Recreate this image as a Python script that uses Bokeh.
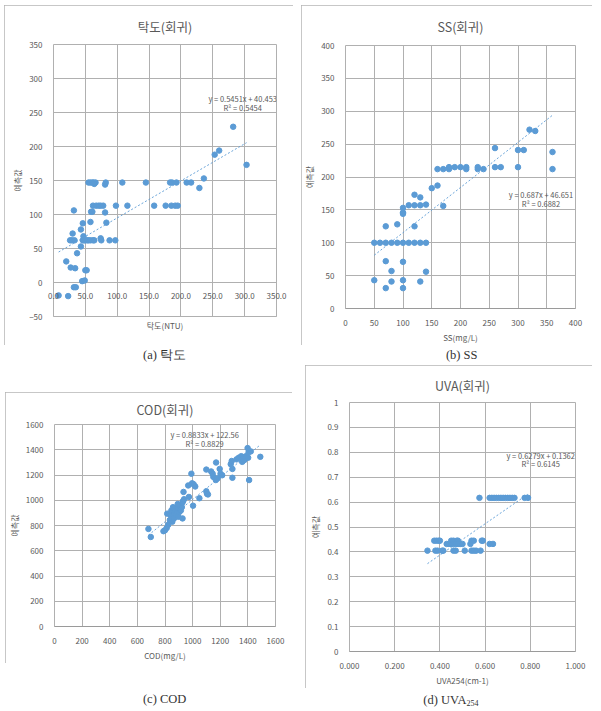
from bokeh.plotting import figure
from bokeh.layouts import row, column
from bokeh.models import Range1d, FixedTicker, NumeralTickFormatter, CustomJSTickFormatter, Label, Title
from bokeh.core.properties import value
from bokeh.embed import file_html
from bokeh.resources import INLINE

# ---------------- data ----------------
# (a) 탁도
TURB_X = [8, 23, 20, 27, 34, 32, 35, 45, 49, 50, 52, 37, 43,
          26, 29, 33, 46, 48, 50, 53, 55, 58, 62, 64, 75, 88, 97,
          74, 47, 30, 43, 46, 58, 83, 32,
          59, 61, 81,
          62, 67, 71, 74, 78, 98, 116, 158, 176, 185, 191, 195,
          55, 58, 61, 63, 66, 64, 81, 82, 108, 145, 183, 186, 193, 209, 216,
          229, 236, 253, 260, 282, 303]
TURB_Y = [-19, -20, 31, 22, 21, -7, -7, 2, 3, 18, 18, 43, 53,
          62, 62, 62, 62, 62, 62, 62, 62, 62, 62, 62, 62, 62, 62,
          65, 68, 72, 78, 87, 89, 88, 106,
          104, 104, 103,
          113, 113, 113, 113, 113, 113, 113, 113, 113, 113, 113, 113,
          147, 147, 147, 147, 147, 145, 144, 147, 147, 147, 147, 147, 147, 147, 147,
          139, 153, 188, 194, 229, 173]
TURB_FIT = (0.5451, 40.453)
TURB_EQ = ["y = 0.5451x + 40.453", "R² = 0.5454"]

# (b) SS
SS_X = [50, 60, 70, 80, 90, 100, 110, 120, 130, 140,
        50, 80, 100, 130, 70, 100, 80, 140, 70, 100,
        70, 120, 90, 100, 100, 100, 110, 120, 130, 140,
        170, 120, 130, 150, 160,
        160, 170, 180, 180, 190, 200, 210, 210, 230, 230, 240, 260, 270, 300, 360,
        260, 300, 310, 360, 320, 330]
SS_Y = [100, 100, 100, 100, 100, 100, 100, 100, 100, 100,
        43, 41, 43, 41, 31, 31, 57, 56, 72, 71,
        125, 125, 128, 153, 146, 144, 157, 157, 157, 158,
        156, 173, 169, 183, 187,
        212, 212, 212, 215, 215, 215, 212, 215, 212, 215, 212, 215, 215, 215, 212,
        244, 241, 241, 238, 272, 270]
SS_FIT = (0.687, 46.651)
SS_EQ = ["y = 0.687x + 46.651", "R² = 0.6882"]

# (c) COD
COD_X = [680, 697, 789, 800, 812, 823, 816, 835, 842, 846,
         853, 858, 865, 869, 874, 881, 885, 892, 897, 904,
         911, 915, 922, 927, 931, 938, 927, 934, 892, 973,
         968, 991, 996, 1007, 1019, 1003, 1049, 1099, 1104, 1111,
         1099, 1134, 1150, 1145, 1170, 1168, 1180, 1196, 1202, 1214,
         1276, 1283, 1288, 1288, 1318, 1334, 1352, 1359, 1363, 1375,
         1386, 1398, 1402, 1405, 1421, 1409, 1490]
COD_Y = [773, 709, 755, 762, 780, 805, 894, 843, 881, 919,
         830, 945, 856, 894, 919, 881, 907, 932, 869, 907,
         957, 919, 945, 983, 995, 1008, 856, 1066, 970, 1026,
         1117, 1210, 1134, 1127, 1109, 957, 1016, 1071, 1051, 1046,
         1243, 1228, 1185, 1210, 1299, 1160, 1173, 1248, 1210, 1198,
         1286, 1311, 1178, 1248, 1324, 1337, 1349, 1304, 1329, 1319,
         1349, 1413, 1337, 1380, 1387, 1160, 1344]
COD_FIT = (0.8833, 122.56)
COD_EQ = ["y = 0.8833x + 122.56", "R² = 0.8829"]

# (d) UVA254
UVA_X = [0.575, 0.62, 0.63, 0.64, 0.65, 0.66, 0.67, 0.68, 0.69, 0.70, 0.71, 0.72, 0.73, 0.775, 0.79,
         0.375, 0.385, 0.395, 0.40, 0.45, 0.46, 0.475, 0.48, 0.54, 0.55, 0.585, 0.59,
         0.43, 0.44, 0.45, 0.46, 0.47, 0.48, 0.49, 0.50, 0.535, 0.62, 0.635,
         0.345, 0.38, 0.39, 0.41, 0.415, 0.46, 0.47, 0.51, 0.54, 0.55, 0.56, 0.58]
UVA_Y = [0.617, 0.617, 0.617, 0.617, 0.617, 0.617, 0.617, 0.617, 0.617, 0.617, 0.617, 0.617, 0.617, 0.617, 0.617,
         0.445, 0.445, 0.445, 0.445, 0.445, 0.445, 0.445, 0.445, 0.445, 0.445, 0.445, 0.445,
         0.432, 0.432, 0.432, 0.432, 0.432, 0.432, 0.432, 0.432, 0.432, 0.432, 0.432,
         0.405, 0.405, 0.405, 0.405, 0.405, 0.405, 0.405, 0.405, 0.405, 0.405, 0.405, 0.405]
UVA_FIT = (0.6279, 0.1362)
UVA_EQ = ["y = 0.6279x + 0.1362", "R² = 0.6145"]

TURB_XTICKS = [0, 50, 100, 150, 200, 250, 300, 350]
TURB_YTICKS = [-50, 0, 50, 100, 150, 200, 250, 300, 350]
SS_TICKS = [0, 50, 100, 150, 200, 250, 300, 350, 400]
COD_TICKS = [0, 200, 400, 600, 800, 1000, 1200, 1400, 1600]
UVA_XTICKS = [0, 0.2, 0.4, 0.6, 0.8, 1.0]
UVA_YTICKS = [0, 0.1, 0.2, 0.3, 0.4, 0.5, 0.6, 0.7, 0.8, 0.9, 1]

# ---------------- style ----------------
FONT = "Noto Sans CJK KR"
GRID = "#b0b0b0"
TXT = "#595959"
BLUE = "#5b9bd5"
FRAME_CSS = {"outline": "1px solid #b4b4b4", "outline-offset": "-1px"}


def panel(title, xs, ys, fit, eq, xr, yr, xticks, yticks, xlabel, w, h, borders,
          eq_xy, title_gap, xfmt=None, yfmt=None, x_label_shift=None, margin=None):
    bl, br, bt, bb = borders
    p = figure(width=w, height=h, x_range=Range1d(*xr), y_range=Range1d(*yr),
               output_backend="svg", toolbar_location=None,
               min_border_left=bl, min_border_right=br,
               min_border_top=bt, min_border_bottom=bb,
               title=title)
    if margin is not None:
        p.margin = margin
    p.styles = FRAME_CSS
    p.outline_line_color = GRID
    p.title.align = "center"
    p.title.text_font = FONT
    p.title.text_font_size = "12.5px"
    p.title.text_font_style = "normal"
    p.title.text_color = TXT
    p.title.standoff = title_gap

    p.xaxis.ticker = FixedTicker(ticks=xticks)
    p.yaxis.ticker = FixedTicker(ticks=yticks)
    p.xgrid.grid_line_color = GRID
    p.ygrid.grid_line_color = GRID
    p.xgrid.grid_line_width = 1
    p.ygrid.grid_line_width = 1
    if xfmt is not None:
        p.xaxis.formatter = xfmt
    if yfmt is not None:
        p.yaxis.formatter = yfmt
    for ax in (p.xaxis[0], p.yaxis[0]):
        ax.major_tick_line_color = None
        ax.minor_tick_line_color = None
        ax.major_label_text_font = FONT
        ax.major_label_text_font_size = "8px"
        ax.major_label_text_color = TXT
        ax.major_label_standoff = 5
        ax.axis_label_text_font = FONT
        ax.axis_label_text_font_size = "8px"
        ax.axis_label_text_font_style = "normal"
        ax.axis_label_text_color = TXT
        ax.axis_label_standoff = 3
    p.yaxis.axis_line_color = None
    p.xaxis.axis_line_color = "#9a9a9a"
    p.yaxis.axis_label = "예측값"

    if x_label_shift is not None:
        # horizontal axis crosses at y = 0: pull its labels up to that line
        p.xaxis.major_label_standoff = x_label_shift
        p.xaxis.axis_line_color = GRID
        p.add_layout(Title(text=xlabel, align="center", text_font=FONT,
                           text_font_size="8px", text_color=TXT,
                           text_font_style="normal", standoff=3), "below")
    else:
        p.xaxis.axis_label = xlabel

    slope, icpt = fit
    x0, x1 = min(xs), max(xs)
    p.line(x=[x0, x1], y=[slope * x0 + icpt, slope * x1 + icpt],
           line_color=BLUE, line_width=1, line_dash="2 2", line_alpha=0.9)
    p.scatter(x=xs, y=ys, size=5.5, fill_color=BLUE, line_color=BLUE)

    ex, ey1, ey2 = eq_xy
    for txt, yy in ((eq[0], ey1), (eq[1], ey2)):
        p.add_layout(Label(x=ex, y=yy, text=txt, text_align="center",
                           text_baseline="middle", text_font=FONT,
                           text_font_size="7.5px", text_color=TXT))
    return p


def caption(parts, w, h, cx, cy, margin=None):
    c = figure(width=w, height=h, x_range=Range1d(0, w), y_range=Range1d(0, h),
               x_axis_location=None, y_axis_location=None,
               output_backend="svg", toolbar_location=None, min_border=0)
    if margin is not None:
        c.margin = margin
    c.grid.visible = False
    c.outline_line_color = None
    main, sub = parts
    kw = dict(text_font=value("Liberation Serif"), text_color="#333333")
    if sub is None:
        c.text(x=[cx], y=[cy], text=[main], text_align="center", text_baseline="middle",
               text_font_size="12.5px", **kw)
    else:
        c.text(x=[cx + 6], y=[cy], text=[main], text_align="right", text_baseline="middle",
               text_font_size="12.5px", **kw)
        c.text(x=[cx + 6], y=[cy - 3], text=[sub], text_align="left", text_baseline="middle",
               text_font_size="8px", **kw)
    return c


pa = panel("탁도(회귀)", TURB_X, TURB_Y, TURB_FIT, TURB_EQ, (0, 350), (-50, 350),
           TURB_XTICKS, TURB_YTICKS, "탁도(NTU)", 289, 340, (36, 17, 38, 29),
           (297, 270, 257), 18, xfmt=NumeralTickFormatter(format="0.0"), x_label_shift=-30)
pb = panel("SS(회귀)", SS_X, SS_Y, SS_FIT, SS_EQ, (0, 400), (0, 400),
           SS_TICKS, SS_TICKS, "SS(mg/L)", 291, 340, (39, 17, 39, 34),
           (340, 173, 160), 19, margin=(0, 0, 0, 8))
pc = panel("COD(회귀)", COD_X, COD_Y, COD_FIT, COD_EQ, (0, 1600), (0, 1600),
           COD_TICKS, COD_TICKS, "COD(mg/L)", 287, 271, (38, 17, 30, 31),
           (1087, 1518, 1453), 11, margin=(0, 0, 0, 1))
pd_ = panel("UVA(회귀)", UVA_X, UVA_Y, UVA_FIT, UVA_EQ, (0, 1.0), (0, 1),
            UVA_XTICKS, UVA_YTICKS, "UVA254(cm-1)", 287, 323, (34, 17, 37, 32),
            (0.846, 0.789, 0.756), 15, xfmt=NumeralTickFormatter(format="0.000"),
            yfmt=CustomJSTickFormatter(code="return String(Number(tick.toFixed(1)));"),
            margin=(0, 0, 0, 12))

capA = caption(("(a) 탁도", None), 289, 47, 144, 38)
capB = caption(("(b) SS", None), 291, 20, 147, 11, margin=(0, 0, 0, 8))
capC = caption(("(c) COD", None), 289, 45, 144, 10)
capD = caption(("(d) UVA", "254"), 291, 20, 147, 9, margin=(0, 0, 0, 8))

root = row(column(pa, capA, pc, capC), column(pb, capB, pd_, capD),
           margin=(5, 0, 0, 4))

with open("out.html", "w") as f:
    f.write(file_html(root, INLINE))
